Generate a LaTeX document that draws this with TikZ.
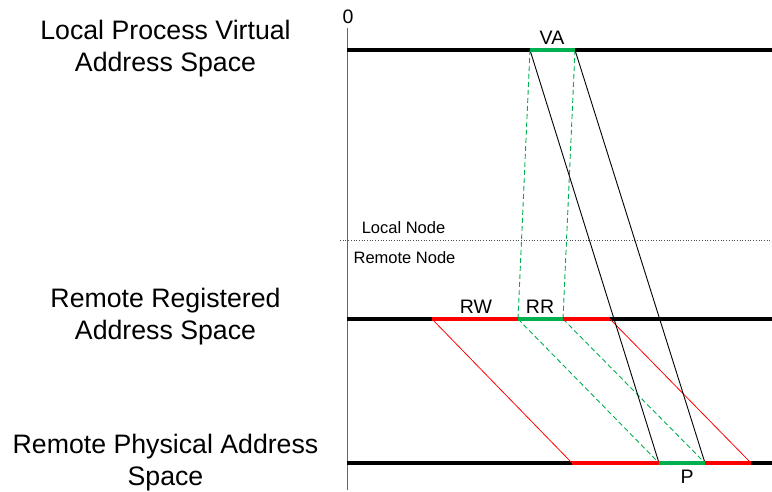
\documentclass[tikz,border=0pt]{standalone}
\usepackage{fontspec}
\setmainfont{Liberation Sans}
\begin{document}
\begin{tikzpicture}[x=1pt,y=-1pt,
  bigtxt/.style={font=\fontsize{26.7}{32}\selectfont,align=center,inner sep=0pt},
  midtxt/.style={font=\fontsize{19.5}{23}\selectfont,inner sep=0pt},
  smalltxt/.style={font=\fontsize{16.5}{20}\selectfont,inner sep=0pt},
  spaceline/.style={line width=4pt,black},
  greenseg/.style={line width=4pt,draw=gr},
  redseg/.style={line width=4pt,draw=red},
  mapline/.style={line width=0.9pt,black},
  gdash/.style={line width=0.9pt,draw=gr,dash pattern=on 5pt off 3pt},
  redmap/.style={line width=0.8pt,draw=red}]
\definecolor{gr}{RGB}{0,176,80}
\useasboundingbox (0,0) rectangle (772,491);
% axis
\coordinate (axT) at (347,28);
\coordinate (axB) at (347,490);
\draw[line width=1pt,black!60] (axT) -- (axB);
\node[midtxt,anchor=south] (zero) at (348,24) {0};
% coordinates on lines
\coordinate (L1s) at (347,50);   \coordinate (L1e) at (772,50);
\coordinate (L2s) at (347,319);  \coordinate (L2e) at (772,319);
\coordinate (L3s) at (347,463);  \coordinate (L3e) at (772,463);
\coordinate (va1) at (530,50);   \coordinate (va2) at (575,50);
\coordinate (rw1) at (432,319);  \coordinate (rr1) at (518,319);
\coordinate (rr2) at (563,319);  \coordinate (rw2) at (610,319);
\coordinate (pr1) at (572,463);  \coordinate (p1) at (659,463);
\coordinate (p2) at (705,463);   \coordinate (pr2) at (751,463);
% thick lines
\draw[spaceline] (L1s) -- (L1e);
\draw[spaceline] (L2s) -- (L2e);
\draw[spaceline] (L3s) -- (L3e);
% dotted separator
\coordinate (d1) at (340,240); \coordinate (d2) at (772,240);
\draw[line width=0.7pt,black!70,dotted] (d1) -- (d2);
% mappings
\draw[redmap] (rw1) -- (pr1);
\draw[redmap] (rw2) -- (pr2);
\draw[gdash] (va1) -- (rr1);
\draw[gdash] (va2) -- (rr2);
\draw[gdash] (rr1) -- (p1);
\draw[gdash] (rr2) -- (p2);
\draw[mapline] (va1) -- (p1);
\draw[mapline] (va2) -- (p2);
% segments
\draw[greenseg] (va1) -- (va2);
\draw[redseg] (rw1) -- (rr1);
\draw[greenseg] (rr1) -- (rr2);
\draw[redseg] (rr2) -- (rw2);
\draw[redseg] (pr1) -- (p1);
\draw[greenseg] (p1) -- (p2);
\draw[redseg] (p2) -- (pr2);
% labels
\node[midtxt] (VA) at (552,38) {VA};
\node[midtxt] (RW) at (476,307) {RW};
\node[midtxt] (RR) at (540,307) {RR};
\node[midtxt] (P) at (687,477) {P};
\node[smalltxt] (ln) at (403.5,228) {Local Node};
\node[smalltxt] (rn) at (404.5,258) {Remote Node};
\node[bigtxt] (t1) at (165.5,49) {Local Process Virtual\\Address Space};
\node[bigtxt] (t2) at (165.5,317) {Remote Registered\\Address Space};
\node[bigtxt] (t3) at (165.5,463) {Remote Physical Address\\Space};
\end{tikzpicture}
\end{document}
